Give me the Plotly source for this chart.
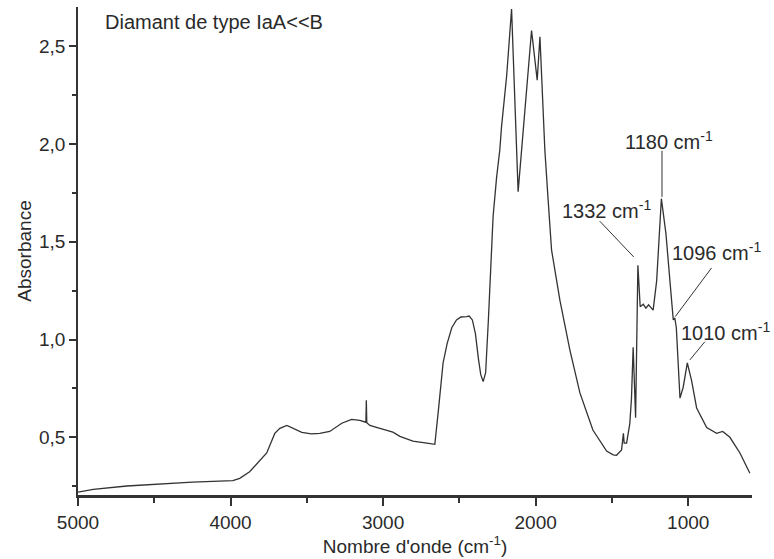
import plotly.graph_objects as go

# Spectrum (wavenumber in cm-1, absorbance)
wavenumber = [5000, 4900, 4680, 4460, 4250, 3985, 3940, 3875, 3820, 3763, 3710, 3677,
              3631, 3592, 3533, 3470, 3415, 3350, 3271, 3206, 3153, 3113, 3110, 3107,
              3087, 3021, 2936, 2890, 2805, 2713, 2661, 2640, 2607, 2580, 2550, 2519,
              2490, 2453, 2436, 2415, 2395, 2375, 2360, 2344, 2328, 2310, 2300, 2279,
              2256, 2235, 2224, 2190, 2158, 2115, 2027, 1990, 1972, 1940, 1918, 1896,
              1841, 1776, 1710, 1625, 1535, 1492, 1470, 1437, 1425, 1420, 1404, 1383,
              1372, 1361, 1345, 1330, 1315, 1295, 1277, 1260, 1230, 1207, 1176, 1146,
              1120, 1098, 1088, 1078, 1054, 1033, 1006, 978, 945, 879, 814, 774,
              727, 661, 596]
absorbance = [0.22, 0.234, 0.251, 0.261, 0.271, 0.278, 0.29, 0.324, 0.37, 0.42, 0.52, 0.546,
              0.561, 0.546, 0.525, 0.518, 0.52, 0.53, 0.572, 0.592, 0.587, 0.577, 0.69, 0.575,
              0.561, 0.546, 0.526, 0.505, 0.48, 0.47, 0.464, 0.62, 0.88, 0.98, 1.06, 1.10,
              1.115, 1.117, 1.12, 1.10, 1.03, 0.90, 0.82, 0.785, 0.83, 1.10, 1.29, 1.63,
              1.83, 1.97, 2.086, 2.35, 2.69, 1.756, 2.58, 2.326, 2.548, 1.97, 1.71, 1.458,
              1.20, 0.947, 0.727, 0.537, 0.43, 0.41, 0.408, 0.435, 0.52, 0.47, 0.47, 0.57,
              0.70, 0.96, 0.60, 1.38, 1.168, 1.18, 1.16, 1.177, 1.15, 1.30, 1.72, 1.54,
              1.30, 1.10, 1.11, 1.06, 0.70, 0.756, 0.88, 0.79, 0.65, 0.55, 0.52, 0.53,
              0.50, 0.42, 0.316]

x_major = [5000, 4000, 3000, 2000, 1000]
x_minor = [4500, 3500, 2500, 1500]
y_major = [0.5, 1.0, 1.5, 2.0, 2.5]
y_major_text = ["0,5", "1,0", "1,5", "2,0", "2,5"]
y_minor = [0.25, 0.75, 1.25, 1.75, 2.25]

peak_labels = ["1332 cm<sup>-1</sup>", "1180 cm<sup>-1</sup>",
               "1096 cm<sup>-1</sup>", "1010 cm<sup>-1</sup>"]
title_text = "Diamant de type IaA&lt;&lt;B"

FONT = "Liberation Sans, Arial, sans-serif"
INK = "#2a2a2a"

fig = go.Figure()
fig.add_trace(go.Scatter(x=wavenumber, y=absorbance, mode="lines",
                         line=dict(color="#333333", width=1.3, shape="linear"),
                         hoverinfo="skip"))

# leader lines (data coordinates)
leaders = [
    (1580, 1.605, 1357, 1.422),
    (1172, 1.965, 1172, 1.729),
    (847, 1.366, 1085, 1.117),
    (891, 0.989, 989, 0.896),
]
for x0, y0, x1, y1 in leaders:
    fig.add_shape(type="line", x0=x0, y0=y0, x1=x1, y1=y1, xref="x", yref="y",
                  line=dict(color="#333333", width=1))

label_pos = [(1533, 1.663), (1127, 2.02), (812, 1.449), (753, 1.04)]
for txt, (lx, ly) in zip(peak_labels, label_pos):
    fig.add_annotation(x=lx, y=ly, xref="x", yref="y", text=txt, showarrow=False,
                       font=dict(family=FONT, size=20, color=INK))

fig.add_annotation(x=4838, y=2.624, xref="x", yref="y", text=title_text, showarrow=False,
                   xanchor="left", font=dict(family=FONT, size=20, color=INK))

fig.update_layout(
    width=774, height=559,
    margin=dict(l=78, r=22, t=7, b=64),
    paper_bgcolor="white", plot_bgcolor="white",
    showlegend=False,
    font=dict(family=FONT, size=19, color=INK),
)
fig.update_xaxes(
    range=[5000, 582], autorange=False,
    showgrid=False, zeroline=False,
    showline=True, linecolor="#333333", linewidth=2.5,
    tickmode="array", tickvals=x_major, ticktext=[str(v) for v in x_major],
    ticks="outside", ticklen=8, tickwidth=1.5, tickcolor="#333333",
    minor=dict(tickmode="array", tickvals=x_minor, ticks="outside", ticklen=5,
               tickwidth=1.5, tickcolor="#333333"),
    tickfont=dict(family=FONT, size=19, color=INK),
    title=dict(text="Nombre d'onde (cm<sup>-1</sup>)", standoff=3,
               font=dict(family=FONT, size=19, color=INK)),
)
fig.update_yaxes(
    range=[0.205, 2.70], autorange=False,
    showgrid=False, zeroline=False,
    showline=True, linecolor="#333333", linewidth=1.5,
    tickmode="array", tickvals=y_major, ticktext=y_major_text,
    ticks="outside", ticklen=7, tickwidth=1.5, tickcolor="#333333",
    minor=dict(tickmode="array", tickvals=y_minor, ticks="outside", ticklen=4,
               tickwidth=1.5, tickcolor="#333333"),
    tickfont=dict(family=FONT, size=19, color=INK),
    title=dict(text="Absorbance", standoff=2,
               font=dict(family=FONT, size=19, color=INK)),
)

fig.write_html("out.html")
